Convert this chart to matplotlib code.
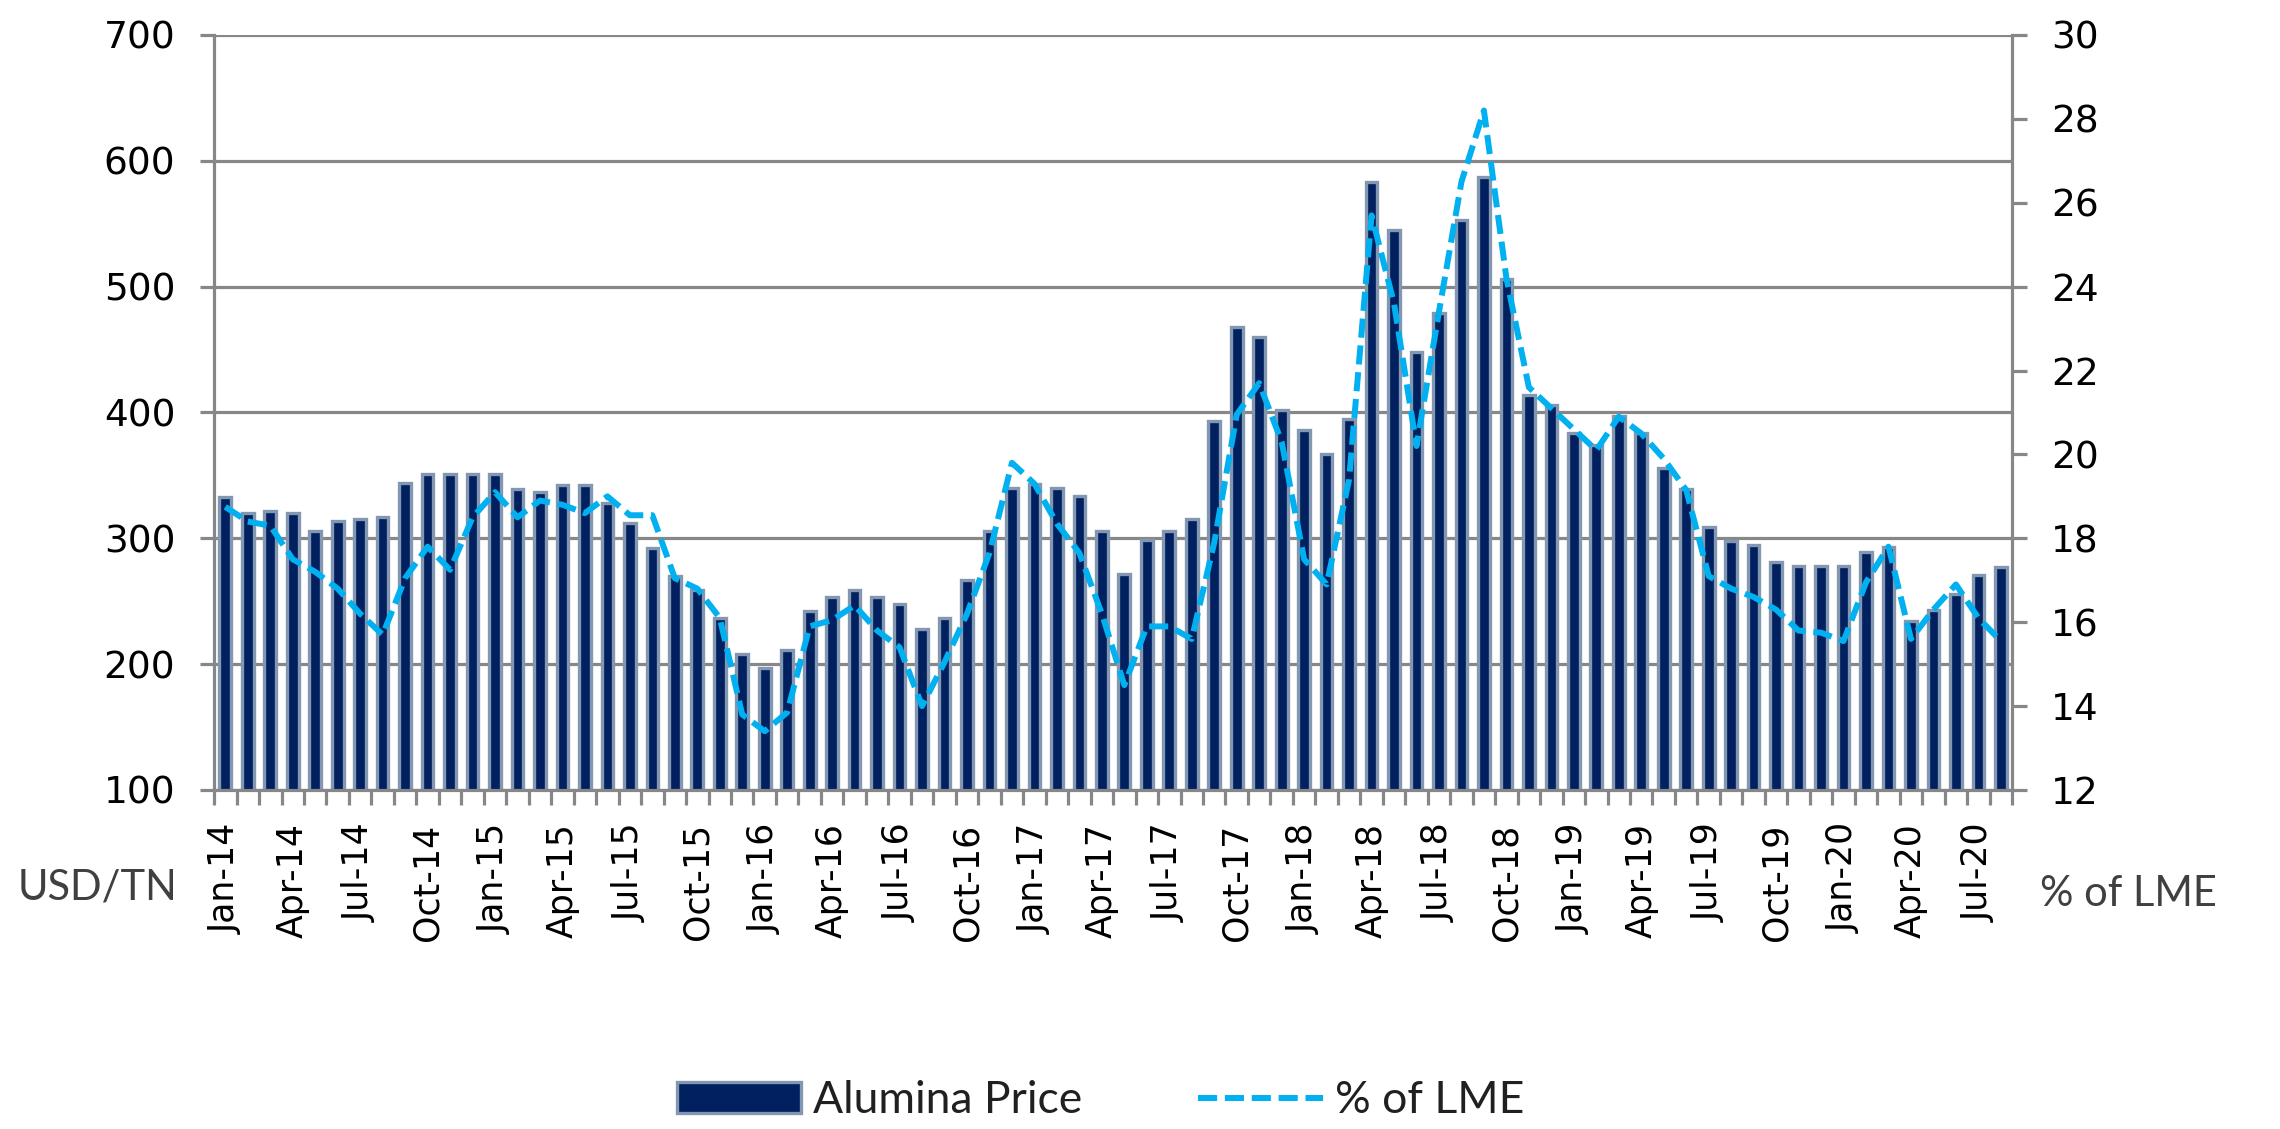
import numpy as np
import pandas as pd
import matplotlib.pyplot as plt
from matplotlib.patches import Patch
from matplotlib.lines import Line2D

# monthly categories Jan-14 .. Aug-20
months = pd.date_range("2014-01-01", periods=80, freq="MS").strftime("%b-%y").tolist()

# alumina price, USD/TN
price = [
    333, 320, 322, 320, 306, 314, 315, 317, 344, 351, 351, 351,
    351, 339, 337, 342, 342, 328, 312, 292, 270, 259, 237, 208,
    197, 211, 242, 253, 259, 253, 248, 228, 237, 267, 306, 340,
    343, 340, 334, 306, 272, 299, 306, 315, 393, 468, 460, 402,
    386, 367, 395, 583, 545, 448, 479, 553, 587, 506, 414, 406,
    384, 374, 397, 384, 356, 339, 309, 298, 295, 281, 278, 278,
    278, 289, 293, 234, 243, 256, 271, 277,
]

# alumina price as % of LME aluminium
lme = [
    18.75, 18.4, 18.3, 17.5, 17.2, 16.8, 16.2, 15.7, 17.05, 17.8, 17.25, 18.5,
    19.1, 18.5, 18.9, 18.8, 18.6, 19.0, 18.55, 18.55, 17.05, 16.8, 16.1, 13.8,
    13.4, 13.85, 15.9, 16.05, 16.4, 15.8, 15.4, 14.0, 15.05, 16.2, 17.65, 19.8,
    19.3, 18.35, 17.65, 16.2, 14.5, 15.9, 15.9, 15.6, 17.9, 20.95, 21.7, 20.3,
    17.5, 16.9, 19.4, 25.7, 23.6, 20.2, 23.4, 26.5, 28.2, 24.2, 21.6, 21.1,
    20.6, 20.1, 20.9, 20.5, 19.9, 19.15, 17.1, 16.8, 16.6, 16.3, 15.8, 15.75,
    15.55, 16.95, 17.8, 15.6, 16.3, 16.9, 16.1, 15.55,
]

NAVY = "#002060"
EDGE = "#8497B0"
CYAN = "#00B0F0"
GRID = "#878787"
DASH = (0, (3.2, 1.3))

x = np.arange(len(months))

fig = plt.figure(figsize=(22.8, 11.29), dpi=100)
ax = fig.add_axes([0.0939, 0.3003, 0.7886, 0.6687])

ax.bar(x, price, width=0.52, color=NAVY, edgecolor=EDGE, linewidth=2.4)
ax.set_xlim(-0.5, len(months) - 0.5)
ax.set_ylim(100, 700)
ax.set_yticks(range(100, 701, 100))
ax.yaxis.grid(True, color=GRID, linewidth=2.3)
ax.set_axisbelow(True)

# boundary ticks without labels, labels every 3rd month at bar centres
ax.set_xticks(np.arange(-0.5, len(months), 1))
ax.set_xticklabels([])
ax.set_xticks(x[::3], minor=True)
ax.set_xticklabels(months[::3], minor=True, rotation=90)
ax.tick_params(axis="x", which="major", length=11, width=2.3, color=GRID)
ax.tick_params(axis="x", which="minor", length=0, pad=24, labelsize=25)
ax.tick_params(axis="y", length=10, width=2.3, color=GRID, labelsize=27, pad=18)

for s in ["top", "right"]:
    ax.spines[s].set_visible(False)
for s in ["left", "bottom"]:
    ax.spines[s].set_color(GRID)
    ax.spines[s].set_linewidth(2.3)

ax2 = ax.twinx()
ax2.plot(x, lme, color=CYAN, linewidth=4.3, linestyle=DASH)
ax2.set_ylim(12, 30)
ax2.set_yticks(range(12, 31, 2))
ax2.tick_params(axis="y", length=11, width=2.3, color=GRID, labelsize=27, pad=17)
for s in ["top", "left", "bottom"]:
    ax2.spines[s].set_visible(False)
ax2.spines["right"].set_color(GRID)
ax2.spines["right"].set_linewidth(2.3)

fig.text(177 / 2280, 1 - 887 / 1129, "USD/TN", ha="right", va="center",
         family="Lato", size=30, color="#404040")
fig.text(2040 / 2280, 1 - 894 / 1129, "% of LME", ha="left", va="center",
         family="Lato", size=30, color="#404040")

handles = [
    Patch(facecolor=NAVY, edgecolor=EDGE, linewidth=2.4),
    Line2D([], [], color=CYAN, linewidth=4.3, linestyle=DASH),
]
fig.legend(handles, ["Alumina Price", "% of LME"], loc="center",
           bbox_to_anchor=(0.4827, 0.025), ncol=2, frameon=False,
           prop={"family": "Lato", "size": 32}, handlelength=2.8,
           handleheight=0.7, handletextpad=0.27, columnspacing=2.6,
           labelcolor="#202020")

fig.savefig("out.png", dpi=100)
